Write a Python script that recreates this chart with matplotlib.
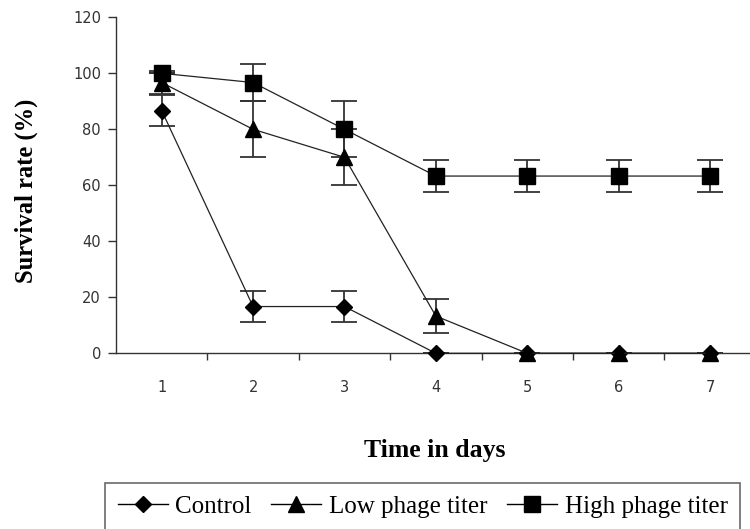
import matplotlib
matplotlib.use("Agg")
import matplotlib.pyplot as plt
from matplotlib.lines import Line2D

days = [1, 2, 3, 4, 5, 6, 7]
control = [86.7, 16.7, 16.7, 0, 0, 0, 0]
control_err = [5.7, 5.7, 5.7, 0, 0, 0, 0]
low = [96.7, 80, 70, 13.3, 0, 0, 0]
low_err = [4, 10, 10, 6, 0, 0, 0]
high = [100, 96.7, 80, 63.3, 63.3, 63.3, 63.3]
high_err = [0, 6.5, 10, 5.7, 5.7, 5.7, 5.7]
series_names = ["Control", "Low phage titer", "High phage titer"]
yticks = [0, 20, 40, 60, 80, 100, 120]

fig = plt.figure(figsize=(7.5, 5.29), dpi=100)
ax = fig.add_axes([116 / 750, 1 - 353.3 / 529, (755.7 - 116) / 750, (353.3 - 17.3) / 529])

specs = [
    (control, control_err, "D", 8.5),
    (low, low_err, "^", 12),
    (high, high_err, "s", 11),
]
handles = []
for (vals, errs, mk, ms), name in zip(specs, series_names):
    ax.errorbar(days, vals, yerr=errs, fmt="none", ecolor="#333333",
                elinewidth=1.3, capsize=9.5, capthick=1.3, zorder=2)
    ax.plot(days, vals, color="#222222", lw=0.9, marker=mk, ms=ms,
            mfc="black", mec="black", zorder=3, clip_on=False)
    handles.append(Line2D([], [], color="black", lw=1.0, marker=mk,
                          ms=ms, mfc="black", mec="black"))

ax.set_xlim(0.5, 7.5)
ax.set_ylim(0, 120)
ax.set_yticks(yticks)
ax.set_xticks([1.5, 2.5, 3.5, 4.5, 5.5, 6.5, 7.5])
ax.set_xticks(days, minor=True)
ax.set_xticklabels([])
ax.set_xticklabels([str(d) for d in days], minor=True)
ax.tick_params(axis="x", which="major", direction="out", length=5, width=1, colors="#333333")
ax.tick_params(axis="x", which="minor", length=0, pad=19, labelsize=10.5, labelcolor="#333333")
ax.tick_params(axis="y", direction="out", length=5.8, width=1, colors="#333333",
               labelsize=10.5, labelcolor="#333333", pad=5)
for lab in ax.get_yticklabels() + ax.get_xticklabels(minor=True):
    lab.set_fontfamily("DejaVu Sans")
for s in ["top", "right"]:
    ax.spines[s].set_visible(False)
for s in ["left", "bottom"]:
    ax.spines[s].set_color("#333333")
    ax.spines[s].set_linewidth(1)

fig.text(26 / 750, 1 - 191 / 529, "Survival rate (%)", rotation=90, ha="center", va="center",
         fontfamily="Liberation Serif", fontweight="bold", fontsize=17.7)
fig.text(435 / 750, 1 - 450 / 529, "Time in days", ha="center", va="center",
         fontfamily="Liberation Serif", fontweight="bold", fontsize=18.5)

leg = fig.legend(handles, series_names, loc="upper left", bbox_to_anchor=(105 / 750, 1 - 483 / 529),
                 ncol=3, frameon=True, fancybox=False, edgecolor="#444444",
                 prop={"family": "Liberation Serif", "size": 18}, handlelength=2.0,
                 handletextpad=0.3, columnspacing=0.8, borderpad=0.5, borderaxespad=0)
leg.get_frame().set_linewidth(1.2)

fig.savefig("out.png", dpi=100)
